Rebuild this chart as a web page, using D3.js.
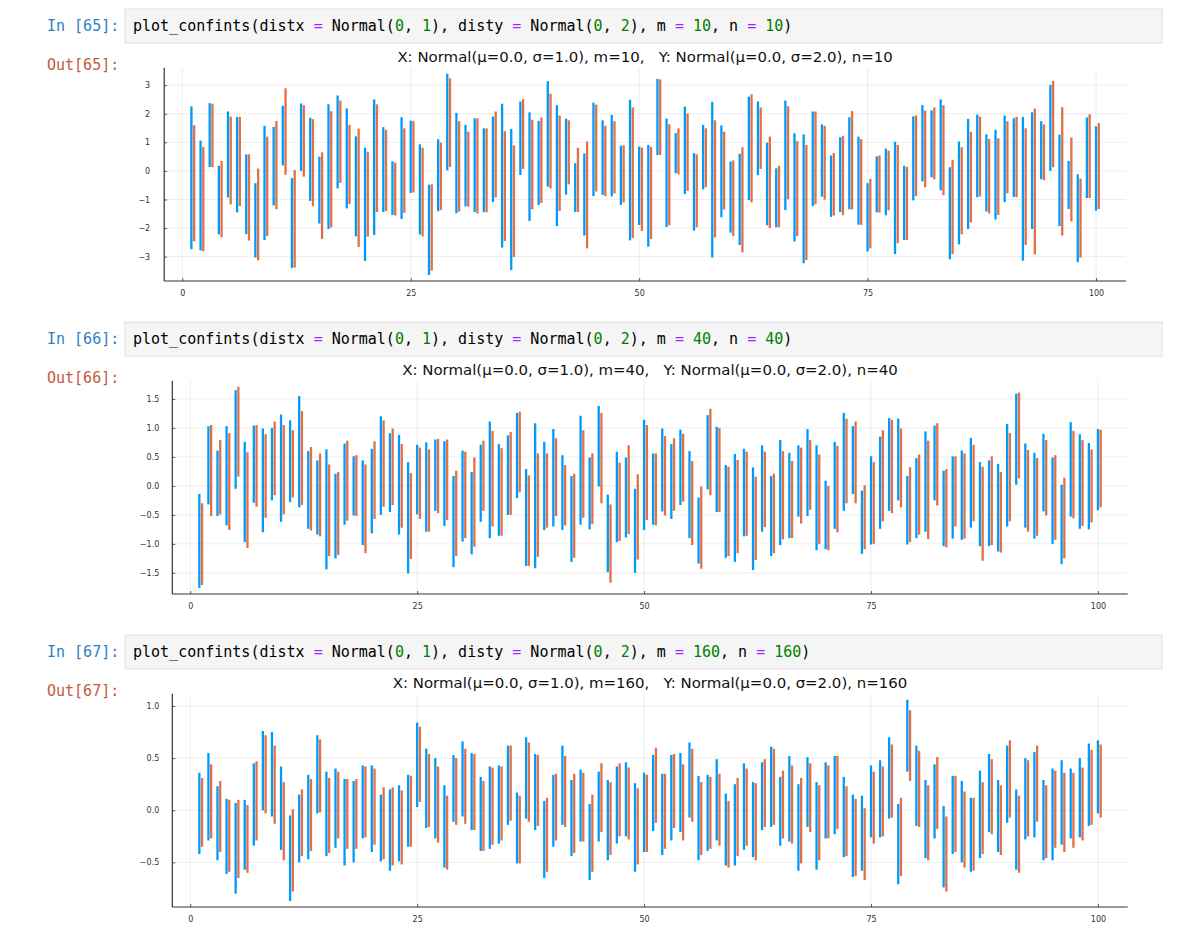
<!DOCTYPE html>
<html><head><meta charset="utf-8">
<script src="https://cdn.jsdelivr.net/npm/d3@7/dist/d3.min.js"></script>
<style>body{margin:0;background:#fff}svg{display:block}</style>
</head><body>
<svg id="chart" width="1200" height="945"></svg>
<script>
// ---------- data ----------
const cellNumbers = [65, 66, 67];
const sampleSizes = [10, 40, 160];
const xTicks = [0, 25, 50, 75, 100];
const p1YTicks = [-3, -2, -1, 0, 1, 2, 3];
const p2YTicks = [-1.5, -1.0, -0.5, 0.0, 0.5, 1.0, 1.5];
const p3YTicks = [-0.5, 0.0, 0.5, 1.0];

const p1BlueHi = [2.26,1.06,2.37,0.18,2.08,1.89,0.58,-0.43,1.58,1.54,2.28,-0.25,2.36,1.86,0.50,2.33,2.64,2.19,1.21,0.81,2.50,1.53,0.34,1.88,1.76,0.93,-0.48,1.11,3.40,2.03,1.61,1.84,1.49,1.90,2.35,1.47,2.43,2.05,1.75,3.14,2.30,1.83,0.27,0.61,2.39,1.77,1.96,0.88,2.49,0.85,0.91,3.22,1.83,1.32,2.25,0.62,1.61,2.42,1.59,0.33,0.60,2.60,2.43,0.99,0.09,2.46,1.32,1.28,2.08,1.63,0.54,1.18,1.88,1.20,-0.43,0.51,0.78,1.02,0.18,1.91,2.30,2.12,2.50,0.13,1.03,1.82,1.97,1.28,1.44,1.94,1.84,1.89,2.05,1.74,3.01,1.27,0.35,-0.12,1.87,1.56];
const p1BlueLo = [-2.74,-2.78,0.14,-2.22,-0.93,-1.45,-2.21,-3.03,-2.42,-1.21,0.19,-3.40,0.00,-1.05,-1.84,-2.03,-0.61,-1.31,-2.29,-3.15,-2.24,-1.44,-1.54,-1.68,-0.77,-2.22,-3.64,-1.41,0.02,-1.48,-1.24,-1.44,-1.44,-1.09,-2.68,-3.47,-0.14,-1.75,-1.19,-0.55,-1.93,-0.83,-1.44,-2.26,-0.88,-0.84,-0.89,-1.19,-2.43,-1.89,-2.65,0.55,-1.96,-0.08,-0.81,-2.09,-0.65,-3.03,-1.62,-2.16,-2.59,-1.02,-0.15,-1.90,-1.97,-1.37,-2.47,-3.23,-1.23,-0.90,-1.61,-1.44,-1.34,-1.88,-2.82,-1.45,-1.55,-2.91,-2.42,-1.03,-0.37,-0.22,-0.68,-3.09,-2.57,-2.03,-0.92,-1.42,-1.70,-1.09,-0.91,-3.14,-2.03,-0.29,0.00,-1.93,-1.33,-3.19,-0.95,-1.39];
const p1OrangeHi = [1.60,0.84,2.35,0.35,1.90,1.89,0.58,0.08,1.20,1.75,2.89,0.03,2.30,1.81,0.65,2.09,2.46,1.61,1.48,0.67,2.33,1.44,0.29,1.49,1.75,0.81,-0.47,0.99,3.24,1.74,1.37,1.84,1.49,2.08,1.39,0.89,2.51,1.79,1.87,2.70,1.94,1.77,0.81,1.03,2.32,1.58,1.74,0.90,2.22,0.82,0.84,3.20,1.63,1.49,2.01,0.58,1.49,1.77,1.37,0.37,0.83,2.68,2.22,1.20,0.18,2.26,1.04,0.91,2.08,1.58,0.63,1.23,2.09,1.11,-0.28,0.54,0.71,0.91,0.14,1.94,2.11,2.22,2.30,0.39,0.83,1.37,1.90,1.12,1.14,1.74,1.89,1.49,2.18,1.63,3.15,2.23,1.17,-0.27,1.98,1.68];
const p1OrangeLo = [-2.46,-2.81,0.13,-2.32,-1.17,-1.23,-2.44,-3.13,-2.28,-1.34,-0.13,-3.38,-0.20,-1.23,-2.38,-1.98,-0.42,-1.16,-2.66,-2.30,-1.44,-1.40,-1.56,-1.47,-0.75,-2.29,-3.49,-1.37,0.14,-1.42,-1.25,-1.49,-1.45,-0.93,-2.45,-3.01,0.07,-1.34,-1.12,-0.61,-1.40,-0.47,-1.44,-2.71,-0.72,-0.88,-0.79,-1.10,-2.35,-2.10,-2.38,0.56,-1.90,-0.12,-0.70,-1.97,-0.57,-2.33,-1.35,-2.28,-2.85,-1.10,0.07,-2.00,-1.97,-0.99,-2.28,-3.12,-1.17,-1.00,-1.56,-1.55,-1.35,-1.89,-2.71,-1.46,-1.38,-2.53,-2.42,-0.88,-0.57,-0.29,-0.85,-2.91,-2.22,-1.80,-0.89,-1.49,-1.54,-0.78,-0.92,-2.59,-2.92,-0.32,0.13,-2.26,-1.77,-3.03,-0.95,-1.33];

const p2BlueHi = [-0.14,1.03,0.61,1.03,1.65,0.76,1.04,0.99,1.00,1.23,1.13,1.55,0.60,0.44,0.63,0.21,0.73,0.51,0.44,0.64,1.20,0.91,0.88,0.41,0.71,0.75,0.80,0.77,0.17,0.61,0.24,0.71,1.11,0.72,0.87,1.26,0.29,1.08,0.76,0.98,0.53,0.17,1.21,0.49,1.38,-0.15,0.59,0.49,-0.05,1.14,0.56,0.99,0.72,0.97,0.60,-0.20,1.22,1.02,0.36,0.55,0.64,0.32,0.70,0.17,0.79,0.57,0.70,0.98,0.70,0.09,0.76,1.26,1.03,-0.08,0.51,0.85,1.17,1.16,0.17,0.48,0.94,1.04,0.26,0.51,0.61,0.83,0.41,0.44,0.38,1.07,1.59,0.73,0.57,0.90,0.49,0.02,1.10,0.89,0.74,0.98];
const p2BlueLo = [-1.76,-0.32,-0.52,-0.68,-0.05,-0.97,-0.29,-0.80,-0.25,-0.62,-0.28,-0.37,-0.74,-0.84,-1.44,-1.25,-0.67,-0.51,-1.02,-0.82,-0.50,-0.45,-0.84,-1.51,-0.49,-0.79,-0.43,-0.69,-1.40,-0.96,-1.18,-0.62,-0.90,-0.86,-0.50,-0.21,-1.38,-1.42,-0.76,-0.70,-0.76,-1.31,-0.67,-0.75,-0.01,-1.49,-0.97,-0.89,-1.50,-0.76,-0.67,-0.44,-0.57,-0.33,-0.90,-1.34,-0.06,-0.45,-1.24,-1.31,-0.87,-1.45,-0.79,-1.21,-1.02,-0.90,-0.53,-0.52,-1.11,-1.09,-0.74,-0.43,-0.14,-1.17,-1.01,-0.74,-0.43,-0.25,-1.01,-0.90,-0.79,-0.25,-1.04,-0.91,-0.93,-0.72,-1.04,-1.04,-1.13,-0.70,0.02,-0.72,-0.91,-0.44,-1.00,-1.35,-0.53,-0.74,-0.75,-0.42];
const p2OrangeHi = [-0.30,1.05,0.79,0.91,1.71,0.58,1.05,0.89,1.11,1.05,0.96,1.29,0.67,0.56,0.37,0.24,0.78,0.53,0.37,0.77,1.13,0.99,0.72,0.22,0.66,0.63,0.81,0.80,0.26,0.59,0.49,0.78,0.95,0.65,0.93,1.28,0.18,0.56,0.56,0.82,0.36,0.21,0.96,0.56,1.26,-0.32,0.40,0.70,0.20,1.05,0.56,0.86,0.82,0.90,0.43,-0.01,1.33,1.00,0.33,0.45,0.59,0.16,0.59,0.21,0.60,0.43,0.66,0.79,0.54,0.00,0.69,1.16,1.11,0.01,0.41,0.96,1.14,0.99,0.32,0.54,0.78,1.08,0.29,0.51,0.56,0.71,0.33,0.51,0.24,0.91,1.61,0.62,0.48,0.79,0.53,0.14,0.95,0.79,0.63,0.97];
const p2OrangeLo = [-1.71,-0.52,-0.49,-0.76,0.16,-1.07,-0.36,-0.55,-0.16,-0.49,-0.20,-0.33,-0.77,-0.87,-1.21,-1.19,-0.60,-0.52,-1.16,-0.57,-0.36,-0.33,-0.72,-1.26,-0.57,-0.79,-0.47,-0.59,-1.21,-0.90,-1.05,-0.43,-0.70,-0.86,-0.50,-0.11,-1.38,-1.22,-0.72,-0.52,-0.68,-1.24,-0.55,-0.66,-0.30,-1.67,-0.95,-0.83,-1.27,-0.59,-0.68,-0.51,-0.43,-0.27,-1.02,-1.43,-0.16,-0.45,-1.21,-1.16,-0.86,-1.28,-0.71,-1.16,-0.92,-0.90,-0.65,-0.41,-1.00,-1.11,-0.80,-0.30,-0.30,-1.09,-1.00,-0.61,-0.47,-0.37,-0.97,-0.84,-0.92,-0.34,-1.06,-0.70,-0.91,-0.61,-1.29,-1.02,-1.15,-0.61,0.13,-0.79,-0.86,-0.51,-0.93,-1.25,-0.56,-0.69,-0.63,-0.37];

const p3BlueHi = [0.36,0.55,0.23,0.11,0.07,0.10,0.45,0.76,0.75,0.42,-0.05,0.15,0.34,0.72,0.37,0.40,0.30,0.28,0.43,0.43,0.15,0.20,0.24,0.34,0.84,0.59,0.50,0.24,0.53,0.66,0.55,0.32,0.42,0.43,0.62,0.17,0.70,0.54,0.09,0.34,0.62,0.29,0.39,0.06,0.37,0.29,0.42,0.46,0.26,0.36,0.53,0.35,0.53,0.55,0.65,0.33,0.34,0.49,0.16,0.25,0.45,0.27,0.46,0.61,0.32,0.52,0.25,0.51,0.27,0.46,0.52,0.32,0.15,0.14,0.43,0.48,0.70,0.06,1.06,0.62,0.29,0.44,0.04,0.33,0.28,0.12,0.38,0.54,0.29,0.62,0.20,0.50,0.56,0.29,0.40,0.48,0.40,0.50,0.64,0.67];
const p3BlueLo = [-0.42,-0.29,-0.48,-0.61,-0.80,-0.57,-0.34,0.00,-0.06,-0.38,-0.87,-0.50,-0.47,-0.03,-0.44,-0.36,-0.53,-0.50,-0.27,-0.40,-0.49,-0.58,-0.49,-0.35,0.03,-0.17,-0.27,-0.55,-0.11,-0.06,-0.19,-0.39,-0.37,-0.32,-0.14,-0.51,-0.08,-0.19,-0.65,-0.35,-0.14,-0.44,-0.30,-0.67,-0.30,-0.48,-0.32,-0.25,-0.59,-0.40,-0.20,-0.43,-0.29,-0.21,-0.07,-0.48,-0.39,-0.29,-0.53,-0.53,-0.38,-0.45,-0.19,-0.16,-0.34,-0.30,-0.58,-0.16,-0.57,-0.27,-0.23,-0.45,-0.64,-0.58,-0.26,-0.26,-0.08,-0.71,0.37,-0.15,-0.46,-0.27,-0.74,-0.42,-0.50,-0.59,-0.46,-0.21,-0.40,-0.12,-0.57,-0.28,-0.26,-0.48,-0.48,-0.33,-0.27,-0.26,-0.15,-0.03];
const p3OrangeHi = [0.31,0.44,0.28,0.10,0.10,0.05,0.47,0.72,0.62,0.27,0.01,0.20,0.30,0.68,0.31,0.37,0.30,0.30,0.42,0.40,0.22,0.22,0.19,0.33,0.80,0.54,0.42,0.14,0.50,0.59,0.54,0.28,0.41,0.42,0.62,0.14,0.65,0.53,0.12,0.35,0.52,0.35,0.36,0.15,0.45,0.27,0.45,0.41,0.21,0.34,0.60,0.35,0.54,0.44,0.59,0.27,0.32,0.35,0.09,0.31,0.40,0.26,0.49,0.59,0.38,0.43,0.31,0.45,0.24,0.43,0.52,0.23,0.11,0.02,0.37,0.42,0.63,0.12,0.96,0.57,0.24,0.51,-0.06,0.33,0.18,0.12,0.27,0.49,0.24,0.67,0.14,0.48,0.62,0.24,0.38,0.36,0.36,0.41,0.58,0.63];
const p3OrangeLo = [-0.35,-0.27,-0.40,-0.59,-0.65,-0.60,-0.29,-0.03,-0.13,-0.48,-0.78,-0.44,-0.39,-0.02,-0.41,-0.27,-0.37,-0.37,-0.26,-0.33,-0.47,-0.53,-0.52,-0.35,0.08,-0.16,-0.31,-0.57,-0.14,-0.13,-0.19,-0.39,-0.33,-0.29,-0.10,-0.51,-0.11,-0.15,-0.59,-0.29,-0.16,-0.41,-0.30,-0.59,-0.21,-0.43,-0.25,-0.28,-0.52,-0.40,-0.12,-0.37,-0.17,-0.29,-0.11,-0.43,-0.37,-0.34,-0.55,-0.44,-0.34,-0.48,-0.16,-0.14,-0.27,-0.32,-0.51,-0.21,-0.48,-0.27,-0.18,-0.44,-0.63,-0.67,-0.32,-0.25,-0.07,-0.63,0.28,-0.16,-0.48,-0.18,-0.78,-0.40,-0.55,-0.58,-0.42,-0.23,-0.43,-0.07,-0.60,-0.25,-0.11,-0.46,-0.36,-0.40,-0.36,-0.29,-0.14,-0.07];

// ---------- layout ----------
const blue = "#009af9", orange = "#e26f46";
const orangeShift = 0.3;
const panels = [
  {blueLo:p1BlueLo, blueHi:p1BlueHi, orLo:p1OrangeLo, orHi:p1OrangeHi, yTicks:p1YTicks, fmt:d3.format("d"),
   cellTop:9, left:164.2, right:1126, bottom:281, yPad:14},
  {blueLo:p2BlueLo, blueHi:p2BlueHi, orLo:p2OrangeLo, orHi:p2OrangeHi, yTicks:p2YTicks, fmt:d3.format(".1f"),
   cellTop:322, left:172.3, right:1127.7, bottom:594, yPad:13},
  {blueLo:p3BlueLo, blueHi:p3BlueHi, orLo:p3OrangeLo, orHi:p3OrangeHi, yTicks:p3YTicks, fmt:d3.format(".1f"),
   cellTop:635, left:172.3, right:1127.7, bottom:907, yPad:13}
];
const plotH = 213.3;
const svg = d3.select("#chart");
const mono = "'DejaVu Sans Mono', monospace";
const sans = "'DejaVu Sans', 'Liberation Sans', sans-serif";
const minus = s => s.replace(/^-/, "\u2212");
let titleSize = null;

function widen(ext){ const s = (ext[1]-ext[0])*0.03; return [ext[0]-s, ext[1]+s]; }

panels.forEach((p, k) => {
  const g = svg.append("g");
  const n = sampleSizes[k];
  // notebook prompts and code cell
  const cellH = 34;
  g.append("rect").attr("x",125).attr("y",p.cellTop).attr("width",1037).attr("height",cellH)
    .attr("fill","#f5f5f5").attr("stroke","#e0e0e0").attr("stroke-width",1);
  g.append("text").attr("x",47).attr("y",p.cellTop+21.5).attr("font-family",mono).attr("font-size",15)
    .attr("fill","#307fc1").text(`In [${cellNumbers[k]}]:`);
  g.append("text").attr("x",47).attr("y",p.cellTop+61).attr("font-family",mono).attr("font-size",15)
    .attr("fill","#bf5b3d").text(`Out[${cellNumbers[k]}]:`);
  const segs = [["plot_confints(distx ","#000"],["=","#aa22ff"],[" Normal(","#000"],["0","#008000"],[", ","#000"],["1","#008000"],
    ["), disty ","#000"],["=","#aa22ff"],[" Normal(","#000"],["0","#008000"],[", ","#000"],["2","#008000"],["), m ","#000"],
    ["=","#aa22ff"],[" ","#000"],[String(n),"#008000"],[", n ","#000"],["=","#aa22ff"],[" ","#000"],[String(n),"#008000"],[")","#000"]];
  const code = g.append("text").attr("x",133).attr("y",p.cellTop+21.5).attr("font-family",mono).attr("font-size",15)
    .attr("xml:space","preserve").style("white-space","pre");
  segs.forEach(s => code.append("tspan").attr("fill",s[1]).text(s[0]));

  // scales
  const xs = [];
  for (let i = 1; i <= p.blueLo.length; i++) { xs.push(i); xs.push(i + orangeShift); }
  const x = d3.scaleLinear().domain(widen(d3.extent(xs))).range([p.left, p.right]);
  const allY = p.blueLo.concat(p.blueHi, p.orLo, p.orHi);
  const y = d3.scaleLinear().domain(widen(d3.extent(allY))).range([p.bottom, p.bottom - plotH]);
  const top = p.bottom - plotH;

  // grid
  g.append("g").selectAll("line").data(xTicks).join("line")
    .attr("x1",d=>x(d)).attr("x2",d=>x(d)).attr("y1",top).attr("y2",p.bottom)
    .attr("stroke","#000").attr("stroke-opacity",0.09).attr("stroke-width",0.8);
  g.append("g").selectAll("line").data(p.yTicks).join("line")
    .attr("x1",p.left).attr("x2",p.right).attr("y1",d=>y(d)).attr("y2",d=>y(d))
    .attr("stroke","#000").attr("stroke-opacity",0.09).attr("stroke-width",0.8);

  // axes
  const xAxis = d3.axisBottom(x).tickValues(xTicks).tickSize(-3).tickPadding(9).tickFormat(d3.format("d"));
  const gx = g.append("g").attr("transform",`translate(0,${p.bottom})`).call(xAxis);
  gx.select(".domain").attr("stroke","#333").attr("stroke-width",1.2).attr("d",`M${p.left},0H${p.right}`);
  const yAxis = d3.axisLeft(y).tickValues(p.yTicks).tickSize(-3).tickPadding(p.yPad).tickFormat(d=>minus(p.fmt(d)));
  const gy = g.append("g").attr("transform",`translate(${p.left},0)`).call(yAxis);
  gy.select(".domain").attr("stroke","#333").attr("stroke-width",1.2).attr("d",`M0,${top}V${p.bottom}`);
  [gx, gy].forEach(a => {
    a.selectAll(".tick line").attr("stroke","#333").attr("stroke-width",0.8);
    a.selectAll(".tick text").attr("font-family",sans).attr("font-size",8).attr("fill","#333");
  });

  // intervals
  const idx = d3.range(p.blueLo.length);
  g.append("g").selectAll("line").data(idx).join("line")
    .attr("x1",i=>x(i+1)).attr("x2",i=>x(i+1)).attr("y1",i=>y(p.blueLo[i])).attr("y2",i=>y(p.blueHi[i]))
    .attr("stroke",blue).attr("stroke-width",2.3);
  g.append("g").selectAll("line").data(idx).join("line")
    .attr("x1",i=>x(i+1+orangeShift)).attr("x2",i=>x(i+1+orangeShift)).attr("y1",i=>y(p.orLo[i])).attr("y2",i=>y(p.orHi[i]))
    .attr("stroke",orange).attr("stroke-width",2.3);

  // title
  const t = g.append("text").attr("x",(p.left+p.right)/2).attr("y",top-6).attr("text-anchor","middle")
    .attr("font-family",sans).attr("font-size",14).attr("fill","#111")
    .text(`X: Normal(\u03bc=0.0, \u03c3=1.0), m=${n},\u00a0\u00a0 Y: Normal(\u03bc=0.0, \u03c3=2.0), n=${n}`);
  if (titleSize === null) {
    const w = t.node().getComputedTextLength();
    titleSize = w > 0 ? 14 * 496 / w : 15;
  }
  t.attr("font-size", titleSize);
});
</script>
</body></html>
